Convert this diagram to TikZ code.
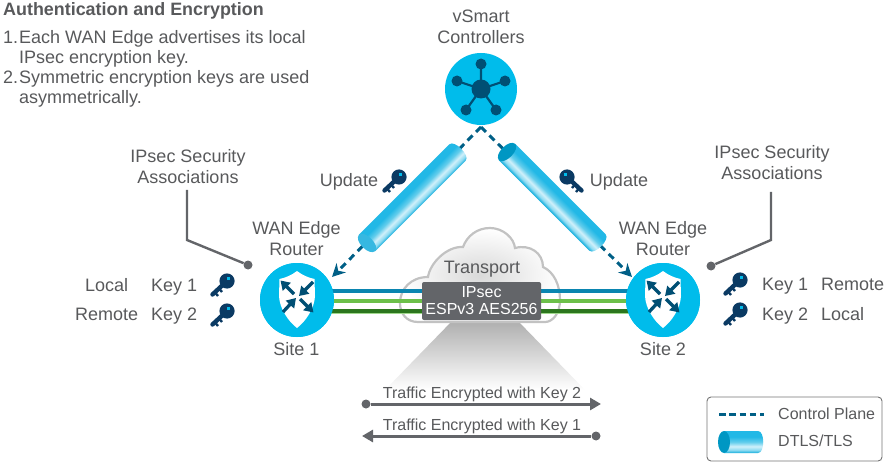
\documentclass[tikz,border=0pt]{standalone}
\usepackage{fontspec}
\setmainfont{Liberation Sans}
\usetikzlibrary{arrows.meta,calc}
\definecolor{txt}{HTML}{58595B}
\definecolor{cyanc}{HTML}{00BCEB}
\definecolor{navy}{HTML}{004F74}
\definecolor{keyc}{HTML}{0B3A63}
\definecolor{ctrl}{HTML}{005F86}
\definecolor{boxc}{HTML}{636569}
\definecolor{tubeA}{HTML}{12ACDC}
\definecolor{tubeB}{HTML}{8FDCF2}
\definecolor{tubeC}{HTML}{D0F0FA}
\definecolor{tubeE}{HTML}{62CDEC}
\definecolor{tubeD}{HTML}{22B8E6}
\definecolor{tunblue}{HTML}{0A85B0}
\definecolor{tungreen}{HTML}{6CC04A}
\definecolor{tundark}{HTML}{2C761E}
\definecolor{tunpale}{HTML}{A0D88C}
\pgfdeclareverticalshading{tubeshade}{100bp}{color(0bp)=(tubeA);color(25bp)=(tubeA);color(32bp)=(tubeB);color(40bp)=(tubeC);color(50bp)=(tubeE);color(62bp)=(tubeD);color(100bp)=(tubeD)}
\tikzset{
 lab/.style={text=txt,font=\fontsize{18}{21}\selectfont,align=center,inner sep=0pt},
 small/.style={lab,font=\fontsize{16}{18}\selectfont},
 sitecircle/.style={circle,fill=cyanc,minimum size=74pt,inner sep=0pt},
 dotnode/.style={circle,fill=boxc,minimum size=9pt,inner sep=0pt},
 leader/.style={draw=boxc,line width=2.4pt},
 ctrlline/.style={draw=ctrl,line width=3pt,dash pattern=on 7pt off 5pt,-{Stealth[length=13pt,width=13pt]}},
 traffic/.style={draw=boxc,line width=3pt,-{Triangle[length=11pt,width=12pt]}},
 keypic/.pic={
  \draw[keyc,line width=4.4pt,line cap=round] (0,0) -- (-14.5,13.5);
  \draw[keyc,line width=2.4pt] (-8,7.5) -- (-5,11) (-12,11.5) -- (-9,15);
  \fill[keyc] (0,0) circle (7.6);
  \fill[cyanc] (0,-4.4) rectangle (3.2,-1.2);
 },
 routericon/.pic={
  \fill[white] (0,-29) .. controls (-5,-25) and (-12,-22) .. (-17.5,-21) -- (-18,-4)
    .. controls (-17.5,9) and (-8,22) .. (0,28)
    .. controls (8,22) and (17.5,9) .. (18,-4) -- (17.5,-21)
    .. controls (12,-22) and (5,-25) .. (0,-29) -- cycle;
  \begin{scope}[navy,line width=3.3pt,-{Triangle[length=9pt,width=11pt]}]
   \draw (-3,-6) -- (-16.5,-19.5);
   \draw (16,-18) -- (2,-4);
   \draw (-14,12) -- (-1,-2);
   \draw (3,-1) -- (16.5,12.5);
  \end{scope}
 },
 hubicon/.pic={
  \draw[navy,line width=2.2pt] (0,0) -- (0,-25) (0,0) -- (24,-8) (0,0) -- (15,21) (0,0) -- (-15,21) (0,0) -- (-24,-8);
  \fill[navy] (0,0) circle (9.5) (0,-25) circle (5.5) (24,-8) circle (5.5) (15,21) circle (5.5) (-15,21) circle (5.5) (-24,-8) circle (5.5);
 },
}
\newcommand{\tubebody}[3]{% length, half width, end colour
  \shade[shading=tubeshade] (0,-#2) -- (#1,-#2) .. controls (#1+7,-#2) and (#1+7,#2) .. (#1,#2) -- (0,#2) -- cycle;
  \fill[#3] (0,0) ellipse (6 and #2);
}
\begin{document}
\begin{tikzpicture}[x=1pt,y=-1pt]
\useasboundingbox (0,0) rectangle (885,462);
% heading text
\node[lab,anchor=base west,font=\fontsize{17.9}{21}\selectfont\bfseries] (title) at (3,16) {Authentication and Encryption};
\node[lab,anchor=base west] (n1) at (3,44) {1.};
\node[lab,anchor=base west] (l1) at (19,44) {Each WAN Edge advertises its local};
\node[lab,anchor=base west] (l1b) at (19,64) {IPsec encryption key.};
\node[lab,anchor=base west] (n2) at (3,84) {2.};
\node[lab,anchor=base west] (l2) at (19,84) {Symmetric encryption keys are used};
\node[lab,anchor=base west] (l2b) at (19,104) {asymmetrically.};
\node[lab] (ctlab) at (481,27) {vSmart\\Controllers};
\node[lab] (sa1) at (188,167) {IPsec Security\\Associations};
\node[lab] (sa2) at (772,163) {IPsec Security\\Associations};
\node[lab,anchor=base] (up1) at (349,186.5) {Update};
\node[lab,anchor=base] (up2) at (619,186.5) {Update};
\node[lab] (we1) at (296.5,239) {WAN Edge\\Router};
\node[lab] (we2) at (663,239) {WAN Edge\\Router};
\node[lab,anchor=base] (s1) at (296.5,355) {Site 1};
\node[lab,anchor=base] (s2) at (663,355) {Site 2};
\node[lab,anchor=base west] (a1) at (85,291) {Local};
\node[lab,anchor=base west] (a2) at (151,291) {Key 1};
\node[lab,anchor=base west] (a3) at (75,320) {Remote};
\node[lab,anchor=base west] (a4) at (151,320) {Key 2};
\node[lab,anchor=base west] (b1) at (762,290.5) {Key 1};
\node[lab,anchor=base west] (b2) at (821,290.5) {Remote};
\node[lab,anchor=base west] (b3) at (762,320) {Key 2};
\node[lab,anchor=base west] (b4) at (821,320) {Local};
% keys
\pic at (227,281) {keypic};
\pic at (227,311) {keypic};
\pic at (740,280) {keypic};
\pic at (740,310) {keypic};
\pic at (399,177) {keypic};
\pic[xscale=-1] at (567,177) {keypic};
% cone
\shade[top color=black!32,bottom color=white] (453,320) -- (517,320) -- (585,390) -- (385,390) -- cycle;
% cloud
\path[draw=black!24,line width=2.2pt,inner color=black!15,outer color=white]
 (418,322) .. controls (406,322) and (400,313) .. (400,303)
 .. controls (400,289) and (411,277) .. (428,277)
 .. controls (430,263) and (447,246) .. (463,247)
 .. controls (467,236) and (477,228) .. (490,228)
 .. controls (503,228) and (514,238) .. (515,248)
 .. controls (530,244) and (543,253) .. (543,267)
 .. controls (554,272) and (560,285) .. (560,300)
 .. controls (560,313) and (553,322) .. (545,322) -- cycle;
\node[lab,anchor=base] (tr) at (482,273) {Transport};
% tunnels
\node[sitecircle] (r1) at (297,300) {};
\node[sitecircle] (r2) at (663,300) {};
\coordinate (ba) at (r1 |- 0,291); \coordinate (bb) at (r2 |- 0,291);
\coordinate (ga) at (r1 |- 0,301); \coordinate (gb) at (r2 |- 0,301);
\coordinate (da) at (r1 |- 0,311); \coordinate (db) at (r2 |- 0,311);
\coordinate (pa) at (r1 |- 0,313); \coordinate (pb) at (r2 |- 0,313);
\draw[tunblue,line width=3.6pt] (ba) -- (bb);
\draw[tungreen,line width=4pt] (ga) -- (gb);
\draw[tunpale,line width=1.5pt] (pa) -- (pb);
\draw[tundark,line width=3.6pt] (da) -- (db);
\node[sitecircle] at (r1) {};
\node[sitecircle] at (r2) {};
\pic at (r1) {routericon};
\pic at (r2) {routericon};
% ipsec box
\node[fill=boxc,rounded corners=2pt,minimum width=119pt,minimum height=38pt,inner sep=0pt,text=white,align=center,font=\fontsize{16}{17}\selectfont] (ipsec) at (481.5,301) {IPsec\\ESPv3 AES256};
% controller
\node[circle,fill=cyanc,minimum size=72pt,inner sep=0pt] (hub) at (481,89) {};
\pic at (hub) {hubicon};
% control plane
\coordinate (apex) at (481,127);
\coordinate (tip1) at (332,277);
\coordinate (tip2) at (632,277);
\draw[ctrlline] (apex) -- (tip1);
\draw[ctrlline] (apex) -- (tip2);
% tubes
\begin{scope}[transform canvas={shift={(367,243)},rotate=45}]
 \tubebody{128}{11.5}{tubeA!85!white}
\end{scope}
\begin{scope}[transform canvas={shift={(507,152)},rotate=-45}]
 \tubebody{128}{11.5}{ctrl!40!cyanc}
\end{scope}
% leaders
\node[dotnode] (d1) at (248,265) {};
\node[dotnode] (d2) at (711,266) {};
\coordinate (c1a) at (187,190); \coordinate (c1b) at (187,240);
\coordinate (c2a) at (771,192); \coordinate (c2b) at (771,240);
\draw[leader] (c1a) -- (c1b) -- (d1);
\draw[leader] (c2a) -- (c2b) -- (d2);
% traffic
\node[small,anchor=base] (t1) at (482,398) {Traffic Encrypted with Key 2};
\node[small,anchor=base] (t2) at (482,430) {Traffic Encrypted with Key 1};
\node[dotnode] (e1) at (366,404) {};
\node[dotnode] (e2) at (596,436) {};
\coordinate (f1) at (601,404);
\coordinate (f2) at (362,436);
\draw[traffic] (e1) -- (f1);
\draw[traffic] (e2) -- (f2);
% legend
\node[draw=black!55,line width=0.9pt,rounded corners=4pt,minimum width=175pt,minimum height=64pt,inner sep=0pt] (leg) at (794.5,429) {};
\coordinate (la) at (719,414); \coordinate (lb) at (764,414);
\draw[draw=ctrl,line width=3pt,dash pattern=on 6.5pt off 3.8pt] (la) -- (lb);
\node[small,anchor=base west] (l3) at (778,419) {Control Plane};
\node[small,anchor=base west] (l4) at (778,446) {DTLS/TLS};
\begin{scope}[transform canvas={shift={(724,442)}}]
 \tubebody{34}{11}{ctrl!40!cyanc}
\end{scope}
\end{tikzpicture}
\end{document}
